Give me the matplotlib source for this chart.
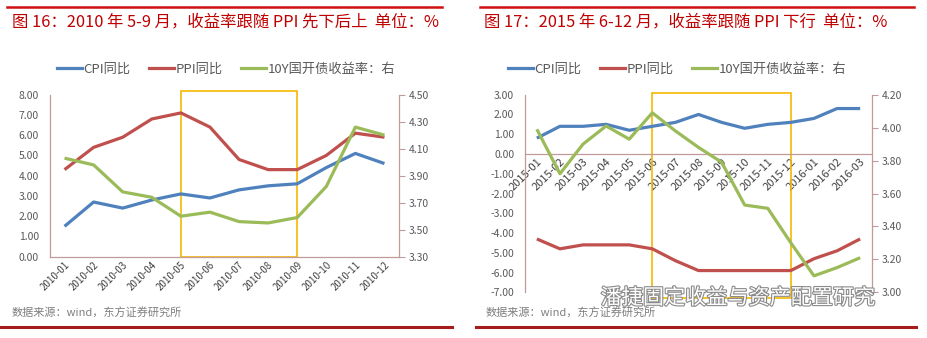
import matplotlib
matplotlib.use('Agg')
import matplotlib.pyplot as plt
import matplotlib.patheffects as pe
from matplotlib.patches import Rectangle
from matplotlib.lines import Line2D

plt.rcParams['font.family'] = ['Noto Sans CJK SC', 'DejaVu Sans']

# ---- data: chart 16 (2010) ----
months_2010 = ['2010-01', '2010-02', '2010-03', '2010-04', '2010-05', '2010-06',
               '2010-07', '2010-08', '2010-09', '2010-10', '2010-11', '2010-12']
cpi_2010 = [1.5, 2.7, 2.4, 2.8, 3.1, 2.9, 3.3, 3.5, 3.6, 4.4, 5.1, 4.6]
ppi_2010 = [4.3, 5.4, 5.9, 6.8, 7.1, 6.4, 4.8, 4.3, 4.3, 5.0, 6.1, 5.9]
cdb_2010 = [4.03, 3.98, 3.78, 3.74, 3.60, 3.63, 3.56, 3.55, 3.59, 3.82, 4.26, 4.20]

# ---- data: chart 17 (2015-2016) ----
months_2015 = ['2015-01', '2015-02', '2015-03', '2015-04', '2015-05', '2015-06',
               '2015-07', '2015-08', '2015-09', '2015-10', '2015-11', '2015-12',
               '2016-01', '2016-02', '2016-03']
cpi_2015 = [0.8, 1.4, 1.4, 1.5, 1.2, 1.4, 1.6, 2.0, 1.6, 1.3, 1.5, 1.6, 1.8, 2.3, 2.3]
ppi_2015 = [-4.3, -4.8, -4.6, -4.6, -4.6, -4.8, -5.4, -5.9, -5.9, -5.9, -5.9, -5.9,
            -5.3, -4.9, -4.3]
cdb_2015 = [3.99, 3.72, 3.90, 4.01, 3.93, 4.09, 3.98, 3.88, 3.79, 3.53, 3.51, 3.30,
            3.10, 3.15, 3.21]

titles = ['图 16：2010 年 5-9 月，收益率跟随 PPI 先下后上  单位：%',
          '图 17：2015 年 6-12 月，收益率跟随 PPI 下行  单位：%']
legend_labels = ['CPI同比', 'PPI同比', '10Y国开债收益率：右']
source = '数据来源：wind，东方证券研究所'

BLUE = '#4F81BD'
RED = '#C0504D'
GREEN = '#9BBB59'
SPINE = '#C39A9A'
TICK = '#595959'
YELLOW = '#F5B800'
TITLE_RED = '#C00000'

fig = plt.figure(figsize=(9.28, 3.38), dpi=100)
W, H = 928.0, 338.0


def px(x0, y0, x1, y1):
    # pixel box (top-left origin) -> figure fraction rect
    return [x0 / W, 1 - y1 / H, (x1 - x0) / W, (y1 - y0) / H]


def style(ax, ax2):
    for a in (ax, ax2):
        a.spines['top'].set_visible(False)
        for s in ('left', 'right', 'bottom'):
            a.spines[s].set_color(SPINE)
            a.spines[s].set_linewidth(0.9)
        a.tick_params(colors=TICK, labelsize=7.5)
    ax.tick_params(axis='y', length=0, pad=8)
    ax.tick_params(axis='x', length=0, pad=2)
    ax2.tick_params(axis='y', length=4, color=SPINE, pad=3)
    ax2.spines['left'].set_visible(False)
    ax2.spines['bottom'].set_visible(False)
    ax.spines['right'].set_visible(False)


def panel(rect, months, cpi, ppi, cdb, ylim, ystep, y2lim, y2ticks, box, boxy, zero_axis, xfs):
    ax = fig.add_axes(rect)
    ax2 = ax.twinx()
    if zero_axis:
        ax.spines['bottom'].set_position(('data', 0))
    xs = list(range(len(months)))
    ax.plot(xs, cpi, color=BLUE, lw=2.3, solid_capstyle='butt', zorder=3)
    ax.plot(xs, ppi, color=RED, lw=2.3, solid_capstyle='butt', zorder=3)
    ax2.plot(xs, cdb, color=GREEN, lw=2.3, solid_capstyle='butt', zorder=3)
    ax.set_xlim(-0.5, len(months) - 0.5)
    ax2.set_xlim(-0.5, len(months) - 0.5)
    ax.set_ylim(*ylim)
    ax.set_yticks([ylim[0] + i * ystep for i in range(int(round((ylim[1] - ylim[0]) / ystep)) + 1)])
    ax.set_yticklabels(['%.2f' % v for v in ax.get_yticks()])
    ax2.set_ylim(*y2lim)
    ax2.set_yticks(y2ticks)
    ax2.set_yticklabels(['%.2f' % v for v in y2ticks])
    style(ax, ax2)
    ax.set_xticks(xs)
    ax.set_xticklabels(months, rotation=45, ha='right', va='top',
                       rotation_mode='anchor', fontsize=xfs, color='#404040')
    ax.add_patch(Rectangle((box[0], boxy[0]), box[1] - box[0], boxy[1] - boxy[0],
                           fill=False, edgecolor=YELLOW, lw=1.2, clip_on=False, zorder=2))
    return ax, ax2


panel(px(50, 94.7, 399, 256.7), months_2010, cpi_2010, ppi_2010, cdb_2010,
      (0, 8), 1, (3.3, 4.5), [3.3, 3.5, 3.7, 3.9, 4.1, 4.3, 4.5], (4, 8), (0, 8.18), False, 7)
panel(px(525.3, 94.7, 871.7, 292.3), months_2015, cpi_2015, ppi_2015, cdb_2015,
      (-7, 3), 1, (3.0, 4.2), [3.0, 3.2, 3.4, 3.6, 3.8, 4.0, 4.2], (5, 11), (-7.3, 3.09), True, 8)

# titles and frame lines
for x0, x1, tx, title in [(7, 442, 12, titles[0]), (480, 914, 484, titles[1])]:
    fig.add_artist(Line2D([x0 / W, x1 / W], [1 - 6.7 / H] * 2, color='#D01010', lw=1.8))
    fig.text(tx / W, 1 - 22 / H, title, color=TITLE_RED, fontsize=11.8, va='center', ha='left')

for x0, x1, tx in [(0, 452, 12), (476, 916, 486)]:
    fig.add_artist(Line2D([x0 / W, x1 / W], [1 - 327 / H] * 2, color='#A61C1C', lw=2.2))
    fig.text(tx / W, 1 - 313 / H, source, color='#7F7F7F', fontsize=8, va='center', ha='left')

# legends
handles = [Line2D([], [], color=c, lw=2.3) for c in (BLUE, RED, GREEN)]
for cx in (226, 677):
    fig.legend(handles, legend_labels, loc='center', bbox_to_anchor=(cx / W, 1 - 69 / H),
               ncol=3, frameon=False, fontsize=9.5, handlelength=1.9, handletextpad=0.1,
               columnspacing=1.4, labelcolor='#595959')

# watermark
fig.text(738 / W, 1 - 298 / H, '潘捷固定收益与资产配置研究', fontsize=15.2, color='white',
         ha='center', va='center',
         path_effects=[pe.withStroke(linewidth=1.6, foreground='#8A8A8A')])

fig.savefig('out.png', dpi=100)
